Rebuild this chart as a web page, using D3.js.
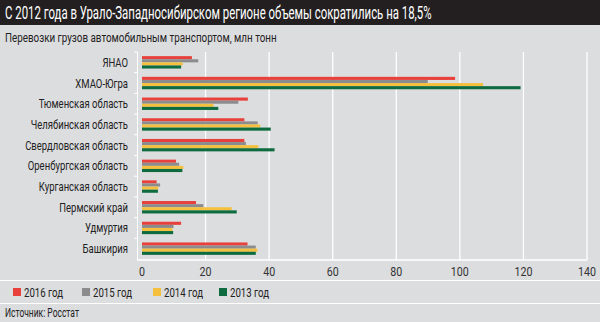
<!DOCTYPE html>
<html><head><meta charset="utf-8">
<script src="https://cdn.jsdelivr.net/npm/d3@7"></script>
<style>
html,body{margin:0;padding:0;background:#dcdddf;}
svg{display:block;}
text{font-family:"Roboto","Liberation Sans",sans-serif;}
</style></head>
<body>
<svg id="c" width="600" height="322"></svg>
<script>
const categories = ["ЯНАО","ХМАО-Югра","Тюменская область","Челябинская область","Свердловская область","Оренбургская область","Курганская область","Пермский край","Удмуртия","Башкирия"];
const seriesNames = ["2016 год","2015 год","2014 год","2013 год"];
const seriesColors = ["#e8403a","#8c8c8e","#f4c03e","#0d6b3f"];
const v2016 = [15.7, 98.5, 33.3, 32.2, 32.2, 10.7, 4.6, 17.0, 12.3, 33.2];
const v2015 = [17.7, 89.9, 30.3, 36.4, 32.7, 11.7, 5.7, 19.3, 9.9, 35.8];
const v2014 = [12.8, 107.3, 22.5, 37.2, 36.6, 13.0, 5.1, 28.2, 9.6, 36.3];
const v2013 = [12.3, 119.1, 24.0, 40.5, 41.7, 12.7, 5.0, 29.8, 9.8, 35.8];
const xTicks = [0,20,40,60,80,100,120,140];
const title = "С 2012 года в Урало-Западносибирском регионе объемы сократились на 18,5%";
const subtitle = "Перевозки грузов автомобильным транспортом, млн тонн";
const source = "Источник: Росстат";

const series = [v2016, v2015, v2014, v2013];
const svg = d3.select("#c");

function factorFor(str, size, target){
  const t = svg.append("text").attr("font-size",size).text(str);
  const w = t.node().getComputedTextLength();
  t.remove();
  return target / w;
}
// place condensed text via transform
function ctext(parent, str, px, py, size, k, anchor, fill){
  return parent.append("text")
    .attr("transform",`translate(${px},${py}) scale(${k},1)`)
    .attr("text-anchor",anchor||"start")
    .attr("font-size",size).attr("fill",fill||"#222").text(str);
}

svg.append("rect").attr("width",600).attr("height",322).attr("fill","#dcdddf");
svg.append("rect").attr("width",600).attr("height",25).attr("fill","#231f20");
ctext(svg, title, 5, 19, 17.5, factorFor(title,17.5,427), "start", "#fff");
ctext(svg, subtitle, 5, 42, 13.5, factorFor(subtitle,13.5,272), "start", "#222");

const x = d3.scaleLinear().domain([0,140]).range([142,587]);
const y = d3.scaleBand().domain(categories).range([52,259]).paddingInner(0.4).paddingOuter(0.2);
const ys = d3.scaleBand().domain(d3.range(4)).range([0,y.bandwidth()]);

svg.append("g").selectAll("line").data(xTicks.slice(1)).join("line")
  .attr("x1",d=>x(d)).attr("x2",d=>x(d)).attr("y1",52).attr("y2",260)
  .attr("stroke","#fff").attr("stroke-width",1.3);

svg.append("line").attr("x1",137.5).attr("x2",137.5).attr("y1",52).attr("y2",260).attr("stroke","#fff").attr("stroke-width",1);
const bounds = categories.map(c=>y(c)-y.step()*0.2);
svg.append("g").selectAll("line").data(bounds).join("line")
  .attr("x1",134).attr("x2",137.5).attr("y1",d=>d).attr("y2",d=>d).attr("stroke","#fff");
svg.append("line").attr("x1",137).attr("x2",587).attr("y1",260).attr("y2",260).attr("stroke","#fff").attr("stroke-width",1.3);

const g = svg.append("g");
categories.forEach((c,i)=>{
  series.forEach((s,j)=>{
    g.append("rect").attr("x",x(0)).attr("y",y(c)+ys(j))
     .attr("width",x(s[i])-x(0)).attr("height",ys.bandwidth())
     .attr("fill",seriesColors[j]);
  });
});

const kLab = factorFor("Свердловская область",13,103);
const labG = svg.append("g");
categories.forEach(c=>ctext(labG, c, 128, y(c)+y.bandwidth()/2+4.5, 13, kLab, "end", "#222"));

const kTick = factorFor("140",13.5,18);
const tickG = svg.append("g");
xTicks.forEach(t=>ctext(tickG, String(t), x(t), 276, 13.5, kTick, "middle", "#333"));

svg.append("line").attr("x1",0).attr("x2",600).attr("y1",280.5).attr("y2",280.5).attr("stroke","#fff").attr("stroke-width",1.2);
svg.append("line").attr("x1",0).attr("x2",600).attr("y1",303.5).attr("y2",303.5).attr("stroke","#fff").attr("stroke-width",1.2);

const legX = [13, 82, 153, 219];
const kLeg = factorFor("2016 год",13.5,39);
const legG = svg.append("g");
seriesNames.forEach((nm,i)=>{
  legG.append("rect").attr("x",legX[i]).attr("y",288).attr("width",8).attr("height",8).attr("fill",seriesColors[i]);
  ctext(legG, nm, legX[i]+11, 297, 13.5, kLeg, "start", "#222");
});

ctext(svg, source, 5, 317, 13, factorFor(source,13,74), "start", "#222");
</script>
</body></html>
